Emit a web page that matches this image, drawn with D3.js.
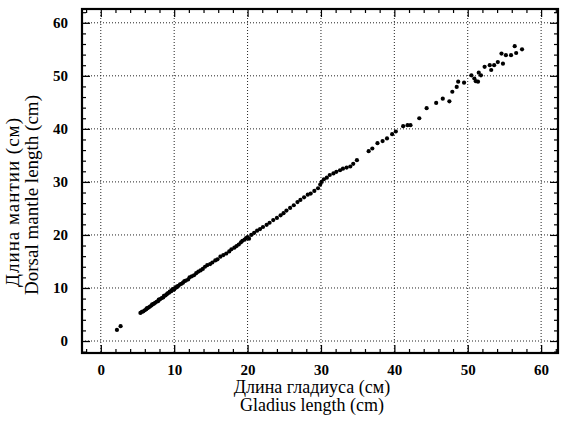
<!DOCTYPE html>
<html>
<head>
<meta charset="utf-8">
<script src="https://cdn.jsdelivr.net/npm/d3@7"></script>
<style>
body { margin: 0; background: #fff; }
svg { display: block; }
</style>
</head>
<body>
<svg width="568" height="430"></svg>
<script>
// gladius length (cm) and dorsal mantle length (cm)
var gladius = [2.2, 2.7,
  5.4, 5.6, 5.8, 6.0, 6.2, 6.3, 6.5, 6.7, 6.9, 7.0, 7.2, 7.4, 7.6, 7.8, 7.9, 8.1, 8.3, 8.5, 8.6, 8.8,
  9.0, 9.1, 9.3, 9.4, 9.6, 9.7, 9.8, 10.0, 10.1, 10.3, 10.4, 10.6, 10.8, 11.0, 11.2, 11.4, 11.6, 11.9,
  12.1, 12.4, 12.7, 13.0, 13.3, 13.6, 13.9, 14.2, 14.5, 14.9, 15.2, 15.6, 15.9, 16.3, 16.7, 17.1, 17.5,
  17.8, 18.2, 18.5, 18.8, 19.1, 19.3, 19.6, 19.8, 20.0, 20.2, 20.5, 20.9, 21.3, 21.7, 22.1, 22.6, 23.0,
  23.5, 24.0, 24.5, 24.9, 25.3, 25.8, 26.3, 26.8, 27.2, 27.7, 28.2, 28.6, 29.1, 29.6, 29.9, 30.1, 30.4,
  30.8, 31.2, 31.7, 32.1, 32.6, 33.0, 33.5, 34.0, 34.4, 34.9, 36.5, 37.0, 37.7, 38.4, 39.0, 39.7, 40.2,
  41.2, 41.8, 42.2, 43.4, 44.4, 45.7, 46.6, 47.5, 47.9, 48.5, 48.7, 49.5, 50.5, 50.9, 51.1, 51.4, 51.8,
  51.5, 52.3, 53.0, 53.2, 53.6, 54.1, 54.6, 54.8, 55.2, 55.9, 56.4, 56.6, 57.4];
var mantle = [2.1, 2.8,
  5.3, 5.5, 5.6, 5.8, 6.0, 6.2, 6.3, 6.5, 6.7, 6.9, 7.0, 7.2, 7.4, 7.5, 7.8, 7.9, 8.1, 8.2, 8.5, 8.6,
  8.8, 9.0, 9.1, 9.3, 9.4, 9.6, 9.8, 9.7, 10.0, 10.1, 10.3, 10.4, 10.7, 10.8, 11.0, 11.3, 11.4, 11.6,
  12.0, 12.2, 12.4, 12.8, 13.1, 13.3, 13.6, 14.0, 14.3, 14.5, 14.8, 15.2, 15.4, 15.9, 16.2, 16.5, 16.9,
  17.3, 17.6, 17.9, 18.2, 18.6, 18.9, 19.1, 19.4, 19.6, 19.3, 20.0, 20.4, 20.8, 21.1, 21.5, 21.9, 22.3,
  22.8, 23.2, 23.7, 24.1, 24.6, 25.1, 25.6, 26.2, 26.6, 27.1, 27.6, 27.8, 28.3, 28.8, 29.5, 30.0, 30.5,
  30.8, 31.3, 31.6, 31.9, 32.2, 32.5, 32.7, 32.9, 33.4, 34.1, 35.8, 36.3, 37.3, 37.7, 38.2, 39.0, 39.5,
  40.5, 40.7, 40.7, 42.0, 43.9, 44.9, 45.7, 45.2, 47.0, 47.9, 48.9, 48.7, 50.1, 49.5, 49.0, 48.9, 50.1,
  50.6, 51.7, 52.0, 51.1, 52.0, 52.6, 54.2, 52.3, 53.9, 53.9, 55.6, 54.3, 55.0];

var majorTicks = [0, 10, 20, 30, 40, 50, 60];
var minorTicks = [-2, 2, 4, 6, 8, 12, 14, 16, 18, 22, 24, 26, 28, 32, 34, 36, 38, 42, 44, 46, 48, 52, 54, 56, 58, 62];

var data = gladius.map(function(g, i) { return {x: g, y: mantle[i]}; });

var pLeft = 82, pRight = 558, pTop = 9, pBottom = 353;

var xs = d3.scaleLinear().domain([-2.56, 62.3]).range([pLeft, pRight]);
var ys = d3.scaleLinear().domain([-2.26, 62.6]).range([pBottom, pTop]);

var svg = d3.select("svg");
var serif = "'Liberation Serif', 'DejaVu Serif', serif";

// dotted grid
svg.append("g")
  .selectAll("line")
  .data(majorTicks)
  .enter()
  .append("line")
  .attr("x1", function(d) { return xs(d); })
  .attr("x2", function(d) { return xs(d); })
  .attr("y1", pTop)
  .attr("y2", pBottom)
  .attr("stroke", "#222")
  .attr("stroke-width", 1)
  .attr("stroke-dasharray", "1,2");

svg.append("g")
  .selectAll("line")
  .data(majorTicks)
  .enter()
  .append("line")
  .attr("y1", function(d) { return ys(d); })
  .attr("y2", function(d) { return ys(d); })
  .attr("x1", pLeft)
  .attr("x2", pRight)
  .attr("stroke", "#222")
  .attr("stroke-width", 1)
  .attr("stroke-dasharray", "1,2");

// points
svg.append("g")
  .selectAll("circle")
  .data(data)
  .enter()
  .append("circle")
  .attr("cx", function(d) { return xs(d.x); })
  .attr("cy", function(d) { return ys(d.y); })
  .attr("r", 2.1)
  .attr("fill", "#000");

function styleAxis(g) {
  g.select(".domain").remove();
  g.selectAll(".tick line").attr("stroke", "#000").attr("stroke-width", 1.3);
  g.selectAll(".tick text")
    .attr("fill", "#000")
    .style("font-family", serif)
    .style("font-weight", "bold")
    .style("font-size", "15px");
}

function noLabels(g) {
  g.select(".domain").remove();
  g.selectAll(".tick line").attr("stroke", "#000").attr("stroke-width", 1.2);
  g.selectAll(".tick text").remove();
}

var xMinor = minorTicks.filter(function(d) { return d > -2.5 && d < 62.2; });
var yMinor = minorTicks.filter(function(d) { return d > -2.2 && d < 62.5; });

// X Axis
svg.append("g")
  .attr("transform", "translate(0," + pBottom + ")")
  .call(d3.axisBottom(xs).tickValues(majorTicks).tickSizeInner(-8).tickSizeOuter(0).tickPadding(11))
  .call(styleAxis);
svg.append("g")
  .attr("transform", "translate(0," + pBottom + ")")
  .call(d3.axisBottom(xs).tickValues(xMinor).tickSize(-4))
  .call(noLabels);

// Y Axis
svg.append("g")
  .attr("transform", "translate(" + pLeft + ",0)")
  .call(d3.axisLeft(ys).tickValues(majorTicks).tickSizeInner(-8).tickSizeOuter(0).tickPadding(14))
  .call(styleAxis);
svg.append("g")
  .attr("transform", "translate(" + pLeft + ",0)")
  .call(d3.axisLeft(ys).tickValues(yMinor).tickSize(-4))
  .call(noLabels);

// mirrored ticks on top and right
svg.append("g")
  .attr("transform", "translate(0," + pTop + ")")
  .call(d3.axisTop(xs).tickValues(majorTicks).tickSize(-8))
  .call(noLabels);
svg.append("g")
  .attr("transform", "translate(0," + pTop + ")")
  .call(d3.axisTop(xs).tickValues(xMinor).tickSize(-4))
  .call(noLabels);
svg.append("g")
  .attr("transform", "translate(" + pRight + ",0)")
  .call(d3.axisRight(ys).tickValues(majorTicks).tickSize(-8))
  .call(noLabels);
svg.append("g")
  .attr("transform", "translate(" + pRight + ",0)")
  .call(d3.axisRight(ys).tickValues(yMinor).tickSize(-4))
  .call(noLabels);

// frame
svg.append("rect")
  .attr("x", pLeft)
  .attr("y", pTop)
  .attr("width", pRight - pLeft)
  .attr("height", pBottom - pTop)
  .attr("fill", "none")
  .attr("stroke", "#000")
  .attr("stroke-width", 2.2);

// X Label
svg.append("text")
  .text("Длина гладиуса (см)")
  .attr("x", 312)
  .attr("y", 393)
  .attr("text-anchor", "middle")
  .style("font-family", serif)
  .style("font-size", "18px");
svg.append("text")
  .text("Gladius length (cm)")
  .attr("x", 312)
  .attr("y", 411)
  .attr("text-anchor", "middle")
  .style("font-family", serif)
  .style("font-size", "18px");

// Y Label
svg.append("text")
  .text("Длина мантии (см)")
  .attr("transform", "rotate(-90)")
  .attr("x", -202)
  .attr("y", 19)
  .attr("text-anchor", "middle")
  .style("font-family", serif)
  .style("font-size", "19px")
  .style("letter-spacing", "1px");
svg.append("text")
  .text("Dorsal mantle length (cm)")
  .attr("transform", "rotate(-90)")
  .attr("x", -195)
  .attr("y", 38)
  .attr("text-anchor", "middle")
  .style("font-family", serif)
  .style("font-size", "19px");
</script>
</body>
</html>
